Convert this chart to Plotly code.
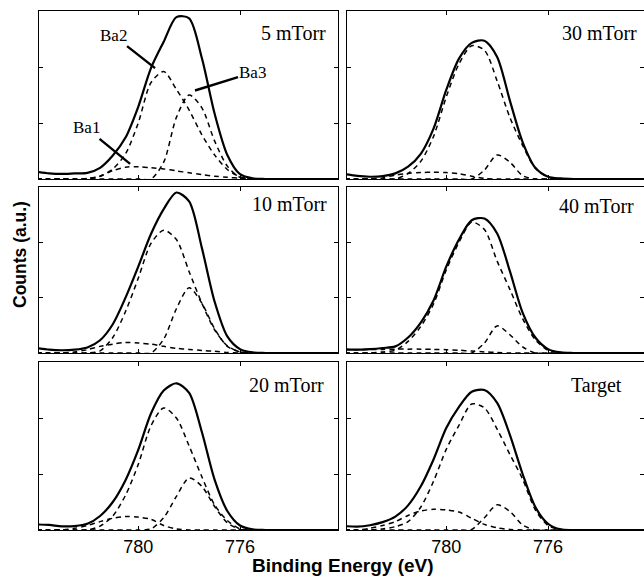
import plotly.graph_objects as go

# Binding energy grid (eV)
energy = [784.0, 783.5, 783.0, 782.5, 782.0, 781.5, 781.0, 780.5, 780.0, 779.5, 779.0,
          778.5, 778.0, 777.5, 777.0, 776.5, 776.0, 775.5, 775.0, 774.0, 773.0, 772.0]

panel_labels = ["5 mTorr", "30 mTorr", "10 mTorr", "40 mTorr", "20 mTorr", "Target"]

# measured spectra (counts, a.u.)
data_5 = [0.13, 0.10, 0.09, 0.10, 0.11, 0.20, 0.42, 0.74, 1.29, 1.98, 2.45, 2.89, 2.87, 2.16, 1.17, 0.43, 0.085, 0.01, 0, 0, 0, 0]
data_30 = [0.09, 0.055, 0.04, 0.05, 0.10, 0.22, 0.45, 0.90, 1.59, 2.15, 2.43, 2.47, 2.18, 1.40, 0.66, 0.20, 0.04, 0.01, 0, 0, 0, 0]
data_10 = [0.09, 0.06, 0.05, 0.06, 0.10, 0.23, 0.52, 1.00, 1.56, 2.15, 2.60, 2.90, 2.74, 1.90, 0.93, 0.30, 0.07, 0.01, 0, 0, 0, 0]
data_40 = [0.07, 0.06, 0.07, 0.09, 0.12, 0.28, 0.55, 0.95, 1.56, 2.05, 2.40, 2.43, 2.16, 1.48, 0.73, 0.28, 0.07, 0.01, 0, 0, 0, 0]
data_20 = [0.10, 0.09, 0.065, 0.07, 0.11, 0.25, 0.50, 0.89, 1.43, 2.08, 2.49, 2.62, 2.45, 1.75, 0.90, 0.34, 0.08, 0.01, 0, 0, 0, 0]
data_tg = [0.07, 0.06, 0.085, 0.14, 0.24, 0.44, 0.78, 1.26, 1.82, 2.20, 2.47, 2.50, 2.27, 1.70, 1.00, 0.41, 0.11, 0.01, 0, 0, 0, 0]

# fitted components
ba1_5 = [0, 0, 0, 0, 0.01, 0.05, 0.15, 0.21, 0.22, 0.20, 0.18, 0.145, 0.11, 0.08, 0.05, 0.03, 0.015, 0, 0, 0, 0, 0]
ba2_5 = [0, 0, 0, 0, 0, 0.05, 0.18, 0.45, 1.00, 1.72, 1.92, 1.60, 1.23, 0.79, 0.43, 0.17, 0.04, 0, 0, 0, 0, 0]
ba3_5 = [0, 0, 0, 0, 0, 0, 0, 0, 0, 0, 0.30, 1.10, 1.50, 1.27, 0.68, 0.23, 0.03, 0, 0, 0, 0, 0]

ba1_30 = [0, 0, 0, 0.02, 0.07, 0.10, 0.115, 0.12, 0.115, 0.095, 0.05, 0.01, 0, 0, 0, 0, 0, 0, 0, 0, 0, 0]
ba2_30 = [0, 0, 0, 0, 0, 0.10, 0.315, 0.76, 1.465, 2.055, 2.38, 2.30, 1.75, 1.10, 0.60, 0.19, 0.035, 0.005, 0, 0, 0, 0]
ba3_30 = [0, 0, 0, 0, 0, 0, 0, 0, 0, 0, 0, 0.16, 0.43, 0.30, 0.06, 0, 0, 0, 0, 0, 0, 0]

ba1_10 = [0, 0, 0, 0.02, 0.06, 0.12, 0.16, 0.19, 0.18, 0.16, 0.12, 0.085, 0.065, 0.045, 0.03, 0.01, 0, 0, 0, 0, 0, 0]
ba2_10 = [0, 0, 0, 0, 0, 0.04, 0.28, 0.75, 1.35, 1.98, 2.22, 2.05, 1.47, 0.90, 0.42, 0.13, 0.02, 0, 0, 0, 0, 0]
ba3_10 = [0, 0, 0, 0, 0, 0, 0, 0, 0, 0, 0.25, 0.80, 1.18, 0.90, 0.44, 0.12, 0.02, 0, 0, 0, 0, 0]

ba1_40 = [0.06, 0.06, 0.065, 0.065, 0.07, 0.07, 0.07, 0.065, 0.06, 0.05, 0.035, 0.02, 0.01, 0, 0, 0, 0, 0, 0, 0, 0, 0]
ba2_40 = [0, 0, 0, 0.02, 0.05, 0.21, 0.48, 0.885, 1.50, 2.00, 2.365, 2.23, 1.66, 1.15, 0.62, 0.24, 0.05, 0.01, 0, 0, 0, 0]
ba3_40 = [0, 0, 0, 0, 0, 0, 0, 0, 0, 0, 0, 0.18, 0.49, 0.33, 0.11, 0, 0, 0, 0, 0, 0, 0]

ba1_20 = [0, 0, 0, 0.03, 0.08, 0.15, 0.21, 0.24, 0.23, 0.19, 0.08, 0.02, 0, 0, 0, 0, 0, 0, 0, 0, 0, 0]
ba2_20 = [0, 0, 0, 0, 0, 0.07, 0.25, 0.62, 1.17, 1.86, 2.18, 2.00, 1.50, 0.95, 0.45, 0.17, 0.02, 0, 0, 0, 0, 0]
ba3_20 = [0, 0, 0, 0, 0, 0, 0, 0, 0, 0.02, 0.22, 0.60, 0.93, 0.78, 0.42, 0.13, 0.01, 0, 0, 0, 0, 0]

ba1_tg = [0, 0, 0.03, 0.08, 0.15, 0.26, 0.34, 0.37, 0.36, 0.32, 0.21, 0.10, 0.04, 0.01, 0, 0, 0, 0, 0, 0, 0, 0]
ba2_tg = [0, 0, 0, 0.02, 0.06, 0.15, 0.41, 0.87, 1.44, 1.87, 2.25, 2.18, 1.80, 1.35, 0.91, 0.36, 0.08, 0.01, 0, 0, 0, 0]
ba3_tg = [0, 0, 0, 0, 0, 0, 0, 0, 0, 0, 0.01, 0.22, 0.45, 0.33, 0.09, 0, 0, 0, 0, 0, 0, 0]

x_tick_vals = [780, 776]
x_tick_text = ["780", "776"]
y_tick_vals = [1, 2]

spectra = [data_5, data_30, data_10, data_40, data_20, data_tg]
components = [
    [ba1_5, ba2_5, ba3_5],
    [ba1_30, ba2_30, ba3_30],
    [ba1_10, ba2_10, ba3_10],
    [ba1_40, ba2_40, ba3_40],
    [ba1_20, ba2_20, ba3_20],
    [ba1_tg, ba2_tg, ba3_tg],
]

W, H = 644, 578
col_px = [(39, 338), (347, 644)]
row_px = [(11, 179), (187, 353), (362, 530)]
x_ranges = [[783.9, 772.15], [783.9, 772.23]]

fig = go.Figure()
layout = dict(
    width=W, height=H, margin=dict(l=0, r=0, t=0, b=0),
    paper_bgcolor="white", plot_bgcolor="white", showlegend=False,
)

for i in range(6):
    r, c = divmod(i, 2)
    n = "" if i == 0 else str(i + 1)
    xa, ya = "x" + n, "y" + n
    fig.add_trace(go.Scatter(
        x=energy, y=spectra[i], xaxis=xa, yaxis=ya, mode="lines",
        line=dict(color="black", width=2.2, shape="spline", smoothing=0.8),
        hoverinfo="skip"))
    for comp in components[i]:
        fig.add_trace(go.Scatter(
            x=energy, y=comp, xaxis=xa, yaxis=ya, mode="lines",
            line=dict(color="black", width=1.5, dash="5px,4px", shape="spline", smoothing=0.8),
            hoverinfo="skip"))
    x0, x1 = col_px[c]
    top, bot = row_px[r]
    layout["xaxis" + n] = dict(
        domain=[x0 / W, x1 / W], range=x_ranges[c], anchor=ya,
        showline=True, linecolor="black", linewidth=1, mirror="ticks",
        ticks="inside", ticklen=4, tickcolor="black",
        tickvals=x_tick_vals, ticktext=x_tick_text,
        showticklabels=(r == 2),
        tickfont=dict(family="Liberation Sans, Arial", size=18, color="black"),
        showgrid=False, zeroline=False)
    layout["yaxis" + n] = dict(
        domain=[(H - bot) / H, (H - top) / H], range=[0, 3], anchor=xa,
        showline=True, linecolor="black", linewidth=1, mirror="ticks",
        ticks="inside", ticklen=4, tickcolor="black",
        tickvals=y_tick_vals, showticklabels=False,
        showgrid=False, zeroline=False)

fig.update_layout(**layout)

annotations = []
label_pos = [(327, 25), (638, 25), (328, 196), (635, 198), (325, 377), (623, 377)]
for i, txt in enumerate(panel_labels):
    rx, cap = label_pos[i]
    annotations.append(dict(
        text=txt, xref="paper", yref="paper", x=(rx + 1) / W, y=(H - (cap - 5)) / H,
        xanchor="right", yanchor="top", showarrow=False,
        font=dict(family="Liberation Serif, Times New Roman", size=20, color="black")))

# component labels in the 5 mTorr panel
for txt, tx, ty, ax, ay in [("Ba2", 779.34, 1.98, -42, -33),
                             ("Ba3", 777.77, 1.58, 58, -18),
                             ("Ba1", 780.32, 0.27, -44, -36)]:
    annotations.append(dict(
        text=txt, xref="x", yref="y", x=tx, y=ty, ax=ax, ay=ay,
        showarrow=True, arrowhead=0, arrowwidth=2.4, arrowcolor="black",
        font=dict(family="Liberation Serif, Times New Roman", size=17, color="black")))

annotations.append(dict(
    text="<b>Binding Energy (eV)</b>", xref="paper", yref="paper",
    x=343 / W, y=0, xanchor="center", yanchor="bottom", showarrow=False,
    font=dict(family="Liberation Sans, Arial", size=19, color="black")))
annotations.append(dict(
    text="<b>Counts (a.u.)</b>", xref="paper", yref="paper",
    x=20 / W, y=(H - 255) / H, xanchor="center", yanchor="middle", showarrow=False,
    textangle=-90,
    font=dict(family="Liberation Sans, Arial", size=17.5, color="black")))

fig.update_layout(annotations=annotations)
fig.write_html("out.html")
